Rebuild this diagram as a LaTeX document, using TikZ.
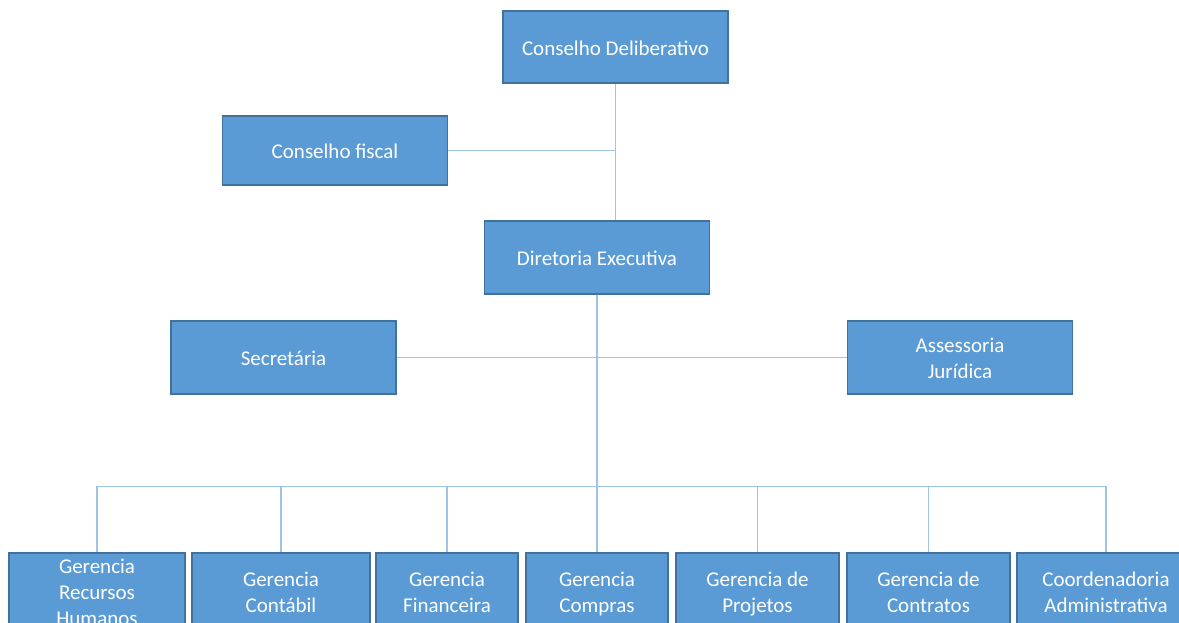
\documentclass[tikz,border=0pt]{standalone}
\usepackage{fontspec}
\setmainfont{Carlito}
\definecolor{boxfill}{HTML}{5B9BD5}
\definecolor{boxline}{HTML}{41719C}
\definecolor{conn}{HTML}{9DC3E6}
\newcommand\toprl{\rule{0pt}{24pt}}
\newcommand\botrl{\rule[-8pt]{0pt}{8pt}}
\begin{document}
\begin{tikzpicture}[x=1pt,y=-1pt,
  orgbox/.style={draw=boxline,line width=1.3pt,fill=boxfill,text=white,
    align=center,inner sep=0pt,font=\fontsize{21}{26}\selectfont},
  wide/.style={orgbox,minimum width=225pt,minimum height=72pt},
  conline/.style={draw=conn,line width=1.4pt}]
\useasboundingbox (0,0) rectangle (1179,622);
\clip (0,0) rectangle (1179,622);
\fill[white] (0,0) rectangle (1179,622);
% top levels
\node[wide] (cd) at (615.5,47) {\toprl Conselho Deliberativo\botrl};
\node[wide,minimum height=69pt] (cf) at (335,150.5) {\toprl Conselho fiscal\botrl};
\node[wide,minimum height=73pt] (de) at (597,257.5) {\toprl Diretoria Executiva\botrl};
\node[wide,minimum height=73pt] (sec) at (283.5,357.5) {\toprl Secretária\botrl};
\node[wide,minimum height=73pt] (aj) at (960,357.5) {\toprl Assessoria\\Jurídica\botrl};
% bottom row
\node[orgbox,minimum width=176pt,minimum height=76pt] (b1) at (97,591) {\rule{0pt}{18pt}Gerencia\\Recursos\\Humanos};
\node[orgbox,minimum width=178pt,minimum height=76pt] (b2) at (281,591) {\toprl Gerencia\\Contábil\botrl};
\node[orgbox,minimum width=142pt,minimum height=76pt] (b3) at (447,591) {\toprl Gerencia\\Financeira\botrl};
\node[orgbox,minimum width=142pt,minimum height=76pt] (b4) at (597,591) {\toprl Gerencia\\Compras\botrl};
\node[orgbox,minimum width=163pt,minimum height=76pt] (b5) at (757.5,591) {\toprl Gerencia de\\Projetos\botrl};
\node[orgbox,minimum width=163pt,minimum height=76pt] (b6) at (928.5,591) {\toprl Gerencia de\\Contratos\botrl};
\node[orgbox,minimum width=178pt,minimum height=76pt] (b7) at (1106,591) {\toprl Coordenadoria\\Administrativa\botrl};
% connectors
\coordinate (bus) at (597,486.5);
\draw[conline] (cd.south) -- (cd.south |- de.north);
\draw[conline] (cf.east) -- (cf.east -| cd.south);
\draw[conline] (de.south) -- (bus);
\draw[conline] (sec.east) -- (aj.west);
\draw[conline] (bus) -| (b1.north);
\draw[conline] (bus) -| (b2.north);
\draw[conline] (bus) -| (b3.north);
\draw[conline] (bus) -- (b4.north);
\draw[conline] (bus) -| (b5.north);
\draw[conline] (bus) -| (b6.north);
\draw[conline] (bus) -| (b7.north);
\end{tikzpicture}
\end{document}
